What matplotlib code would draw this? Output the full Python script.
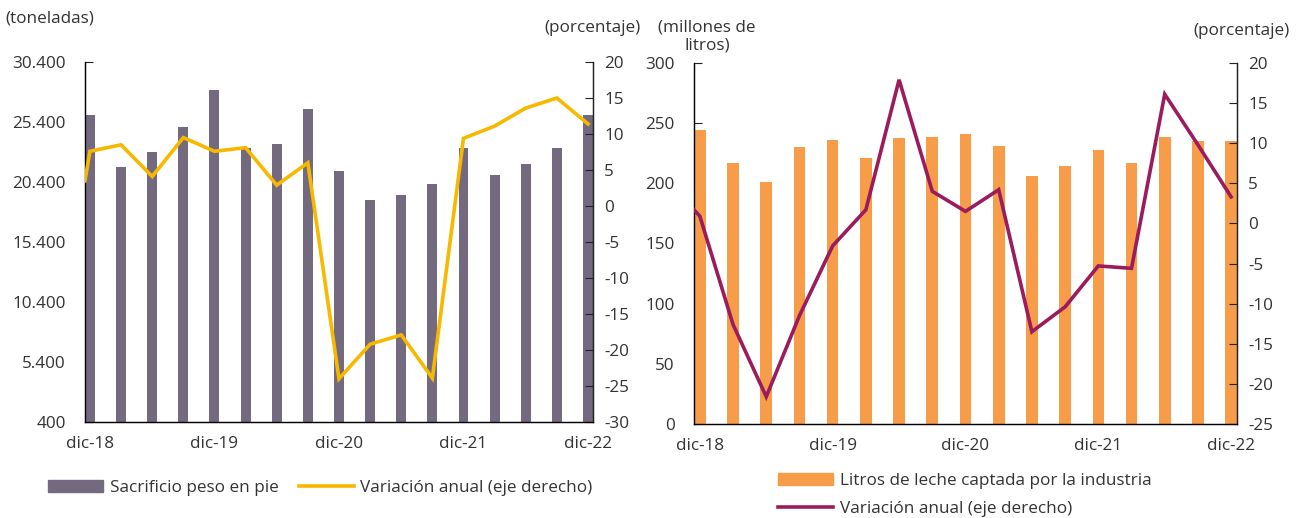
import numpy as np
import matplotlib.pyplot as plt
from matplotlib.patches import Patch
from matplotlib.lines import Line2D

plt.rcParams['font.family'] = ['Open Sans', 'DejaVu Sans']
plt.rcParams['axes.unicode_minus'] = False

# Datos (trimestrales, dic-18 a dic-22)
fechas = ['dic-18', 'dic-19', 'dic-20', 'dic-21', 'dic-22']

sacrificio = [25950, 21610, 22910, 24985, 28030, 23240, 23574, 26507, 21277,
              18878, 19349, 20234, 23240, 20973, 21941, 23240, 25950]
var_sacrificio = [3.5, 7.6, 8.5, 4.1, 9.5, 7.6, 8.1, 2.9, 6.0, -24.0,
                  -19.2, -17.9, -23.9, 9.4, 11.1, 13.6, 15.0, 11.4]

leche = [243.9, 216.7, 201.4, 230.0, 236.1, 220.8, 237.5, 238.6, 240.8,
         231.1, 205.8, 214.7, 227.8, 216.7, 238.6, 235.3, 235.3]
var_leche = [1.7, 0.9, -12.6, -21.6, -11.5, -2.8, 1.7, 17.9, 4.0, 1.5, 4.2,
             -13.5, -10.4, -5.3, -5.6, 16.1, 9.8, 3.3]

gris = '#746a80'
amarillo = '#f7b800'
naranja = '#f79d4a'
granate = '#9b1c5c'
txt = '#333333'
fs = 12.3

fig = plt.figure(figsize=(12.97, 5.18), dpi=100)


def panel(rect, barras, linea, ancho, col_bar, col_lin, ylim, yticks, ylabels,
          y2lim, y2ticks):
    ax = fig.add_axes(rect)
    n = len(barras)
    x = np.arange(n)
    ax.bar(x, barras, width=ancho, color=col_bar, zorder=2)
    ax.set_xlim(-ancho / 2, n - 1 + ancho / 2)
    ax.set_ylim(*ylim)
    ax.set_yticks(yticks)
    ax.set_yticklabels(ylabels)
    ax.set_xticks(x[::4])
    ax.set_xticklabels(fechas)
    ax.set_xticks(x[::4] - ancho / 2, minor=True)
    ax.tick_params(axis='x', which='major', length=0, pad=10, labelsize=fs,
                   colors=txt)
    ax.tick_params(axis='x', which='minor', direction='in', length=6,
                   color='#222222')
    ax.tick_params(axis='y', direction='in', length=6, labelsize=fs,
                   colors=txt, pad=14)
    ax.tick_params(axis='y', color='#222222')
    for s in ['left', 'bottom', 'right']:
        ax.spines[s].set_color('#222222')
        ax.spines[s].set_linewidth(1.0)
    ax.spines['top'].set_visible(False)

    ax2 = ax.twinx()
    xl = np.concatenate([[-ancho / 2], x])
    ax2.plot(xl, linea, color=col_lin, lw=2.6, solid_joinstyle='miter', zorder=3)
    ax2.set_ylim(*y2lim)
    ax2.set_yticks(y2ticks)
    ax2.tick_params(axis='y', direction='in', length=6, labelsize=fs,
                    colors=txt, pad=8)
    ax2.tick_params(axis='y', color='#222222')
    ax2.spines['top'].set_visible(False)
    ax2.spines['right'].set_color('#222222')
    return ax, ax2


# Panel izquierdo
yt = [400, 5400, 10400, 15400, 20400, 25400, 30400]
axL, axL2 = panel([0.0655, 0.1853, 0.3917, 0.695], sacrificio, var_sacrificio,
                  0.32, gris, amarillo, (400, 30400), yt,
                  [f'{v:,}'.replace(',', '.') for v in yt],
                  (-30, 20), np.arange(-30, 21, 5))

# Panel derecho
yt = list(range(0, 301, 50))
axR, axR2 = panel([0.5351, 0.1815, 0.4186, 0.697], leche, var_leche,
                  0.35, naranja, granate, (0, 300), yt, [str(v) for v in yt],
                  (-25, 20), np.arange(-25, 21, 5))

fig.text(0.004, 0.965, '(toneladas)', fontsize=fs, color=txt, va='center')
fig.text(0.494, 0.945, '(porcentaje)', fontsize=fs, color=txt, va='center',
         ha='right')
fig.text(0.545, 0.93, '(millones de\nlitros)', fontsize=fs, color=txt,
         va='center', ha='center', linespacing=1.15)
fig.text(0.994, 0.94, '(porcentaje)', fontsize=fs, color=txt, va='center',
         ha='right')

legL = fig.legend(handles=[Patch(color=gris, label='Sacrificio peso en pie'),
                           Line2D([], [], color=amarillo, lw=2.6,
                                  label='Variación anual (eje derecho)')],
                  loc='center', bbox_to_anchor=(0.247, 0.058), ncol=2,
                  frameon=False, fontsize=fs, handlelength=3.2,
                  handleheight=0.7, columnspacing=1.2, handletextpad=0.4,
                  labelcolor=txt)

legR = fig.legend(handles=[Patch(color=naranja,
                                 label='Litros de leche captada por la industria'),
                           Line2D([], [], color=granate, lw=2.6,
                                  label='Variación anual (eje derecho)')],
                  loc='center', bbox_to_anchor=(0.744, 0.044), ncol=1,
                  frameon=False, fontsize=fs, handlelength=3.2,
                  handleheight=0.7, handletextpad=0.4, labelspacing=0.7,
                  labelcolor=txt)

fig.savefig('out.png', dpi=100)
